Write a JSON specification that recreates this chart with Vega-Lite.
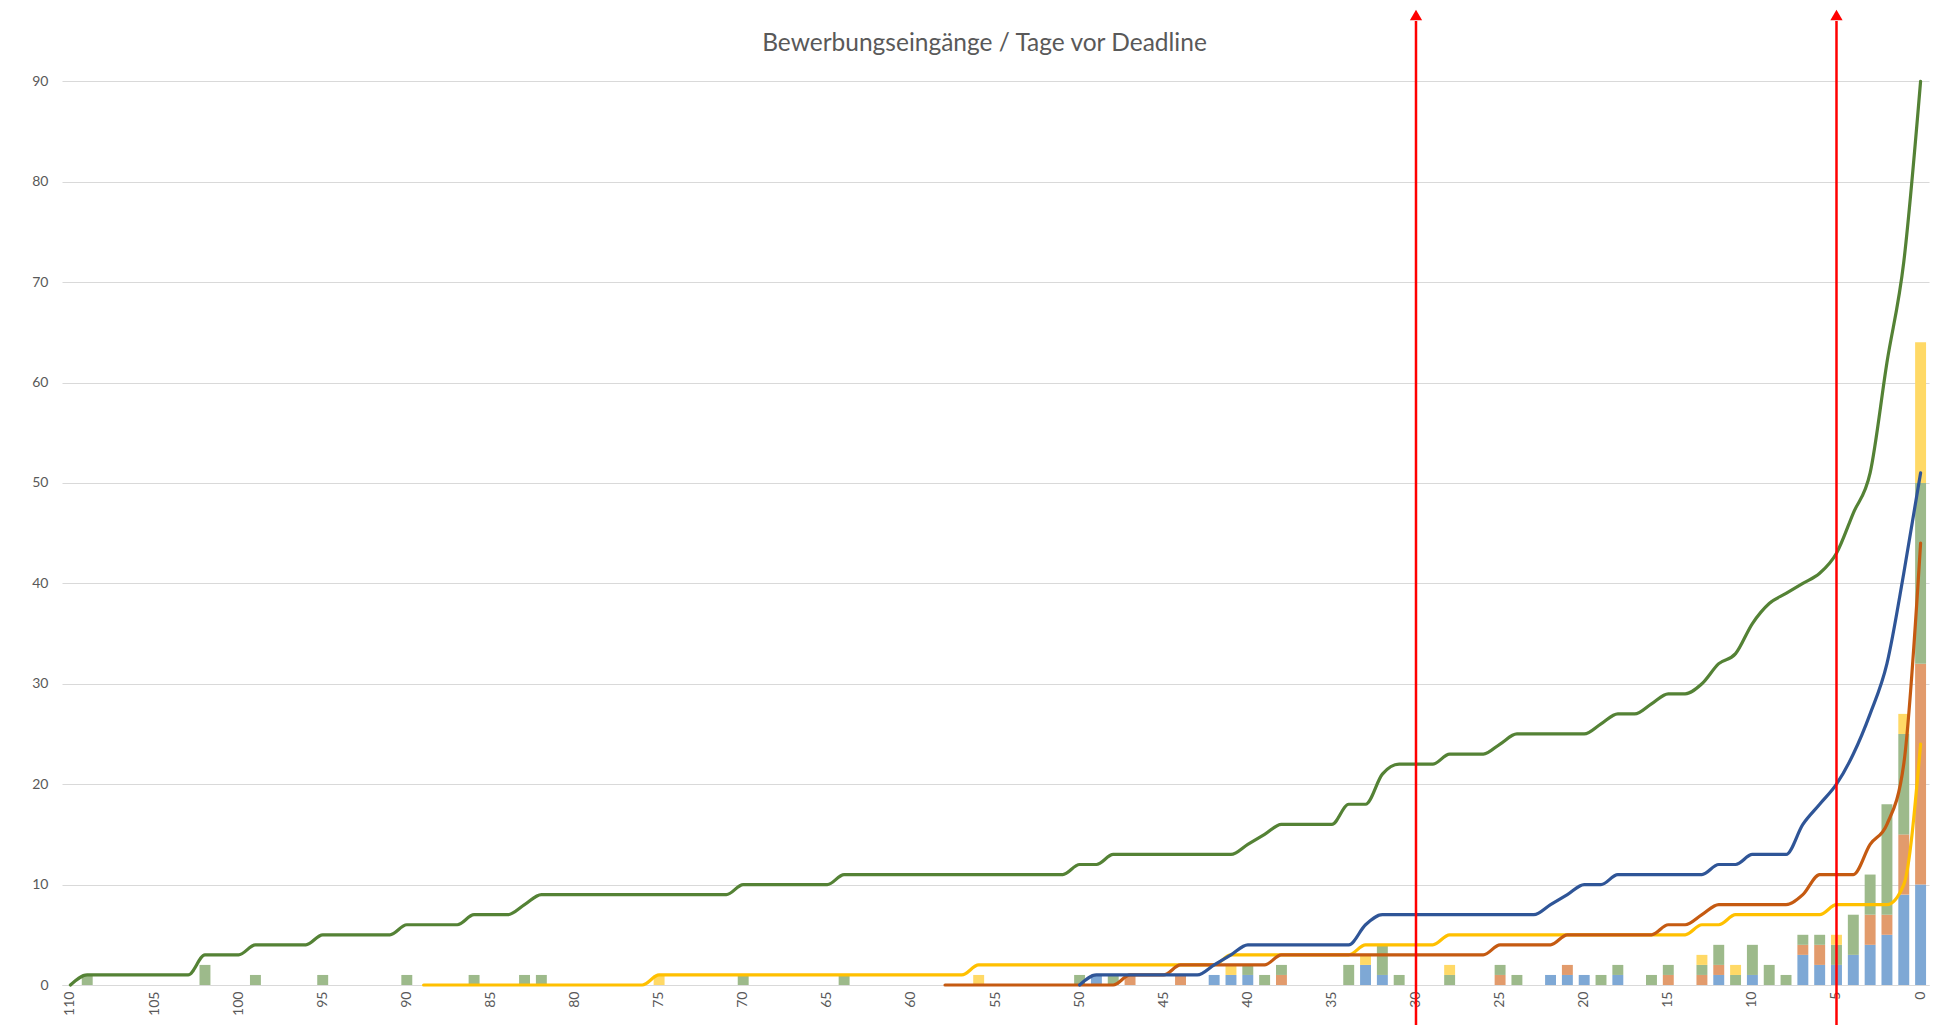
{
  "$schema": "https://vega.github.io/schema/vega-lite/v6.json",
  "width": 1867,
  "height": 975,
  "autosize": {"type": "none"},
  "padding": {"left": 62, "top": 10, "right": 12, "bottom": 40},
  "background": "white",
  "config": {
    "view": {"stroke": null},
    "font": "Lato"
  },
  "title": {
    "text": "Bewerbungseingänge / Tage vor Deadline",
    "anchor": "middle",
    "frame": "group",
    "dx": -11,
    "offset": -47,
    "font": "Lato",
    "fontSize": 24.5,
    "fontWeight": "normal",
    "color": "#595959"
  },
  "datasets": {
    "eingaenge": [
      {"tag": 109, "s3": 1},
      {"tag": 102, "s3": 2},
      {"tag": 99, "s3": 1},
      {"tag": 95, "s3": 1},
      {"tag": 90, "s3": 1},
      {"tag": 86, "s3": 1},
      {"tag": 83, "s3": 1},
      {"tag": 82, "s3": 1},
      {"tag": 75, "s4": 1},
      {"tag": 70, "s3": 1},
      {"tag": 64, "s3": 1},
      {"tag": 56, "s4": 1},
      {"tag": 50, "s3": 1},
      {"tag": 49, "s1": 1},
      {"tag": 48, "s3": 1},
      {"tag": 47, "s2": 1},
      {"tag": 44, "s2": 1},
      {"tag": 42, "s1": 1},
      {"tag": 41, "s1": 1, "s4": 1},
      {"tag": 40, "s1": 1, "s3": 1},
      {"tag": 39, "s3": 1},
      {"tag": 38, "s2": 1, "s3": 1},
      {"tag": 34, "s3": 2},
      {"tag": 33, "s1": 2, "s4": 1},
      {"tag": 32, "s1": 1, "s3": 3},
      {"tag": 31, "s3": 1},
      {"tag": 28, "s3": 1, "s4": 1},
      {"tag": 25, "s2": 1, "s3": 1},
      {"tag": 24, "s3": 1},
      {"tag": 22, "s1": 1},
      {"tag": 21, "s1": 1, "s2": 1},
      {"tag": 20, "s1": 1},
      {"tag": 19, "s3": 1},
      {"tag": 18, "s1": 1, "s3": 1},
      {"tag": 16, "s3": 1},
      {"tag": 15, "s2": 1, "s3": 1},
      {"tag": 13, "s2": 1, "s3": 1, "s4": 1},
      {"tag": 12, "s1": 1, "s2": 1, "s3": 2},
      {"tag": 11, "s3": 1, "s4": 1},
      {"tag": 10, "s1": 1, "s3": 3},
      {"tag": 9, "s3": 2},
      {"tag": 8, "s3": 1},
      {"tag": 7, "s1": 3, "s2": 1, "s3": 1},
      {"tag": 6, "s1": 2, "s2": 2, "s3": 1},
      {"tag": 5, "s1": 2, "s3": 2, "s4": 1},
      {"tag": 4, "s1": 3, "s3": 4},
      {"tag": 3, "s1": 4, "s2": 3, "s3": 4},
      {"tag": 2, "s1": 5, "s2": 2, "s3": 11},
      {"tag": 1, "s1": 9, "s2": 6, "s3": 10, "s4": 2},
      {"tag": 0, "s1": 10, "s2": 22, "s3": 18, "s4": 14}
    ],
    "kumuliert": [
      {"tag": 110, "s3": 0},
      {"tag": 109, "s3": 1},
      {"tag": 108, "s3": 1},
      {"tag": 107, "s3": 1},
      {"tag": 106, "s3": 1},
      {"tag": 105, "s3": 1},
      {"tag": 104, "s3": 1},
      {"tag": 103, "s3": 1},
      {"tag": 102, "s3": 3},
      {"tag": 101, "s3": 3},
      {"tag": 100, "s3": 3},
      {"tag": 99, "s3": 4},
      {"tag": 98, "s3": 4},
      {"tag": 97, "s3": 4},
      {"tag": 96, "s3": 4},
      {"tag": 95, "s3": 5},
      {"tag": 94, "s3": 5},
      {"tag": 93, "s3": 5},
      {"tag": 92, "s3": 5},
      {"tag": 91, "s3": 5},
      {"tag": 90, "s3": 6},
      {"tag": 89, "s3": 6, "s4": 0},
      {"tag": 88, "s3": 6, "s4": 0},
      {"tag": 87, "s3": 6, "s4": 0},
      {"tag": 86, "s3": 7, "s4": 0},
      {"tag": 85, "s3": 7, "s4": 0},
      {"tag": 84, "s3": 7, "s4": 0},
      {"tag": 83, "s3": 8, "s4": 0},
      {"tag": 82, "s3": 9, "s4": 0},
      {"tag": 81, "s3": 9, "s4": 0},
      {"tag": 80, "s3": 9, "s4": 0},
      {"tag": 79, "s3": 9, "s4": 0},
      {"tag": 78, "s3": 9, "s4": 0},
      {"tag": 77, "s3": 9, "s4": 0},
      {"tag": 76, "s3": 9, "s4": 0},
      {"tag": 75, "s3": 9, "s4": 1},
      {"tag": 74, "s3": 9, "s4": 1},
      {"tag": 73, "s3": 9, "s4": 1},
      {"tag": 72, "s3": 9, "s4": 1},
      {"tag": 71, "s3": 9, "s4": 1},
      {"tag": 70, "s3": 10, "s4": 1},
      {"tag": 69, "s3": 10, "s4": 1},
      {"tag": 68, "s3": 10, "s4": 1},
      {"tag": 67, "s3": 10, "s4": 1},
      {"tag": 66, "s3": 10, "s4": 1},
      {"tag": 65, "s3": 10, "s4": 1},
      {"tag": 64, "s3": 11, "s4": 1},
      {"tag": 63, "s3": 11, "s4": 1},
      {"tag": 62, "s3": 11, "s4": 1},
      {"tag": 61, "s3": 11, "s4": 1},
      {"tag": 60, "s3": 11, "s4": 1},
      {"tag": 59, "s3": 11, "s4": 1},
      {"tag": 58, "s2": 0, "s3": 11, "s4": 1},
      {"tag": 57, "s2": 0, "s3": 11, "s4": 1},
      {"tag": 56, "s2": 0, "s3": 11, "s4": 2},
      {"tag": 55, "s2": 0, "s3": 11, "s4": 2},
      {"tag": 54, "s2": 0, "s3": 11, "s4": 2},
      {"tag": 53, "s2": 0, "s3": 11, "s4": 2},
      {"tag": 52, "s2": 0, "s3": 11, "s4": 2},
      {"tag": 51, "s2": 0, "s3": 11, "s4": 2},
      {"tag": 50, "s1": 0, "s2": 0, "s3": 12, "s4": 2},
      {"tag": 49, "s1": 1, "s2": 0, "s3": 12, "s4": 2},
      {"tag": 48, "s1": 1, "s2": 0, "s3": 13, "s4": 2},
      {"tag": 47, "s1": 1, "s2": 1, "s3": 13, "s4": 2},
      {"tag": 46, "s1": 1, "s2": 1, "s3": 13, "s4": 2},
      {"tag": 45, "s1": 1, "s2": 1, "s3": 13, "s4": 2},
      {"tag": 44, "s1": 1, "s2": 2, "s3": 13, "s4": 2},
      {"tag": 43, "s1": 1, "s2": 2, "s3": 13, "s4": 2},
      {"tag": 42, "s1": 2, "s2": 2, "s3": 13, "s4": 2},
      {"tag": 41, "s1": 3, "s2": 2, "s3": 13, "s4": 3},
      {"tag": 40, "s1": 4, "s2": 2, "s3": 14, "s4": 3},
      {"tag": 39, "s1": 4, "s2": 2, "s3": 15, "s4": 3},
      {"tag": 38, "s1": 4, "s2": 3, "s3": 16, "s4": 3},
      {"tag": 37, "s1": 4, "s2": 3, "s3": 16, "s4": 3},
      {"tag": 36, "s1": 4, "s2": 3, "s3": 16, "s4": 3},
      {"tag": 35, "s1": 4, "s2": 3, "s3": 16, "s4": 3},
      {"tag": 34, "s1": 4, "s2": 3, "s3": 18, "s4": 3},
      {"tag": 33, "s1": 6, "s2": 3, "s3": 18, "s4": 4},
      {"tag": 32, "s1": 7, "s2": 3, "s3": 21, "s4": 4},
      {"tag": 31, "s1": 7, "s2": 3, "s3": 22, "s4": 4},
      {"tag": 30, "s1": 7, "s2": 3, "s3": 22, "s4": 4},
      {"tag": 29, "s1": 7, "s2": 3, "s3": 22, "s4": 4},
      {"tag": 28, "s1": 7, "s2": 3, "s3": 23, "s4": 5},
      {"tag": 27, "s1": 7, "s2": 3, "s3": 23, "s4": 5},
      {"tag": 26, "s1": 7, "s2": 3, "s3": 23, "s4": 5},
      {"tag": 25, "s1": 7, "s2": 4, "s3": 24, "s4": 5},
      {"tag": 24, "s1": 7, "s2": 4, "s3": 25, "s4": 5},
      {"tag": 23, "s1": 7, "s2": 4, "s3": 25, "s4": 5},
      {"tag": 22, "s1": 8, "s2": 4, "s3": 25, "s4": 5},
      {"tag": 21, "s1": 9, "s2": 5, "s3": 25, "s4": 5},
      {"tag": 20, "s1": 10, "s2": 5, "s3": 25, "s4": 5},
      {"tag": 19, "s1": 10, "s2": 5, "s3": 26, "s4": 5},
      {"tag": 18, "s1": 11, "s2": 5, "s3": 27, "s4": 5},
      {"tag": 17, "s1": 11, "s2": 5, "s3": 27, "s4": 5},
      {"tag": 16, "s1": 11, "s2": 5, "s3": 28, "s4": 5},
      {"tag": 15, "s1": 11, "s2": 6, "s3": 29, "s4": 5},
      {"tag": 14, "s1": 11, "s2": 6, "s3": 29, "s4": 5},
      {"tag": 13, "s1": 11, "s2": 7, "s3": 30, "s4": 6},
      {"tag": 12, "s1": 12, "s2": 8, "s3": 32, "s4": 6},
      {"tag": 11, "s1": 12, "s2": 8, "s3": 33, "s4": 7},
      {"tag": 10, "s1": 13, "s2": 8, "s3": 36, "s4": 7},
      {"tag": 9, "s1": 13, "s2": 8, "s3": 38, "s4": 7},
      {"tag": 8, "s1": 13, "s2": 8, "s3": 39, "s4": 7},
      {"tag": 7, "s1": 16, "s2": 9, "s3": 40, "s4": 7},
      {"tag": 6, "s1": 18, "s2": 11, "s3": 41, "s4": 7},
      {"tag": 5, "s1": 20, "s2": 11, "s3": 43, "s4": 8},
      {"tag": 4, "s1": 23, "s2": 11, "s3": 47, "s4": 8},
      {"tag": 3, "s1": 27, "s2": 14, "s3": 51, "s4": 8},
      {"tag": 2, "s1": 32, "s2": 16, "s3": 62, "s4": 8},
      {"tag": 1, "s1": 41, "s2": 22, "s3": 72, "s4": 10},
      {"tag": 0, "s1": 51, "s2": 44, "s3": 90, "s4": 24}
    ],
    "markierungen": [
      {"tag": 30},
      {"tag": 5}
    ]
  },
  "encoding": {
    "x": {
      "field": "tag",
      "type": "ordinal",
      "scale": {
        "domain": [110,109,108,107,106,105,104,103,102,101,100,99,98,97,96,95,94,93,92,91,90,89,88,87,86,85,84,83,82,81,80,79,78,77,76,75,74,73,72,71,70,69,68,67,66,65,64,63,62,61,60,59,58,57,56,55,54,53,52,51,50,49,48,47,46,45,44,43,42,41,40,39,38,37,36,35,34,33,32,31,30,29,28,27,26,25,24,23,22,21,20,19,18,17,16,15,14,13,12,11,10,9,8,7,6,5,4,3,2,1,0],
        "paddingInner": 0.35,
        "paddingOuter": 0.175
      },
      "axis": {
        "values": [110,105,100,95,90,85,80,75,70,65,60,55,50,45,40,35,30,25,20,15,10,5,0],
        "title": null,
        "labelAngle": 270,
        "ticks": false,
        "grid": false,
        "domainColor": "#D9D9D9",
        "domainWidth": 1,
        "labelColor": "#595959",
        "labelFont": "Lato",
        "labelFontSize": 14,
        "labelPadding": 6
      }
    }
  },
  "layer": [
    {
      "data": {"name": "eingaenge"},
      "transform": [
        {"fold": ["s1", "s2", "s3", "s4"], "as": ["serie", "anzahl"]},
        {"filter": "datum.anzahl > 0"}
      ],
      "mark": {"type": "bar"},
      "encoding": {
        "y": {
          "field": "anzahl",
          "type": "quantitative",
          "stack": "zero",
          "scale": {"domain": [0, 97.1], "nice": false},
          "axis": {
            "values": [0,10,20,30,40,50,60,70,80,90],
            "title": null,
            "domain": false,
            "ticks": false,
            "gridColor": "#D9D9D9",
            "gridWidth": 1,
            "labelColor": "#595959",
            "labelFont": "Lato",
            "labelFontSize": 14,
            "labelPadding": 14
          }
        },
        "fill": {
          "field": "serie",
          "type": "nominal",
          "scale": {"domain": ["s1", "s2", "s3", "s4"], "range": ["#7EA8D5", "#E29B6C", "#9DBA8B", "#FFD966"]},
          "legend": null
        },
        "order": {"field": "serie", "sort": "ascending"}
      }
    },
    {
      "data": {"name": "kumuliert"},
      "transform": [
        {"fold": ["s1", "s2", "s3", "s4"], "as": ["serie", "summe"]},
        {"filter": "isValid(datum.summe)"}
      ],
      "mark": {"type": "line", "interpolate": "monotone", "strokeWidth": 3.2, "strokeCap": "round", "strokeJoin": "round"},
      "encoding": {
        "y": {"field": "summe", "type": "quantitative"},
        "stroke": {
          "field": "serie",
          "type": "nominal",
          "scale": {"domain": ["s1", "s2", "s3", "s4"], "range": ["#2F5597", "#C55A11", "#548235", "#FFC000"]},
          "legend": null
        }
      }
    },
    {
      "data": {"name": "markierungen"},
      "mark": {"type": "rule", "color": "#FF0000", "strokeWidth": 2.5},
      "encoding": {
        "y": {"datum": -4},
        "y2": {"datum": 96}
      }
    },
    {
      "data": {"name": "markierungen"},
      "mark": {"type": "point", "shape": "triangle-up", "filled": true, "color": "#FF0000", "opacity": 1, "size": 150},
      "encoding": {
        "y": {"datum": 96.6}
      }
    }
  ]
}
